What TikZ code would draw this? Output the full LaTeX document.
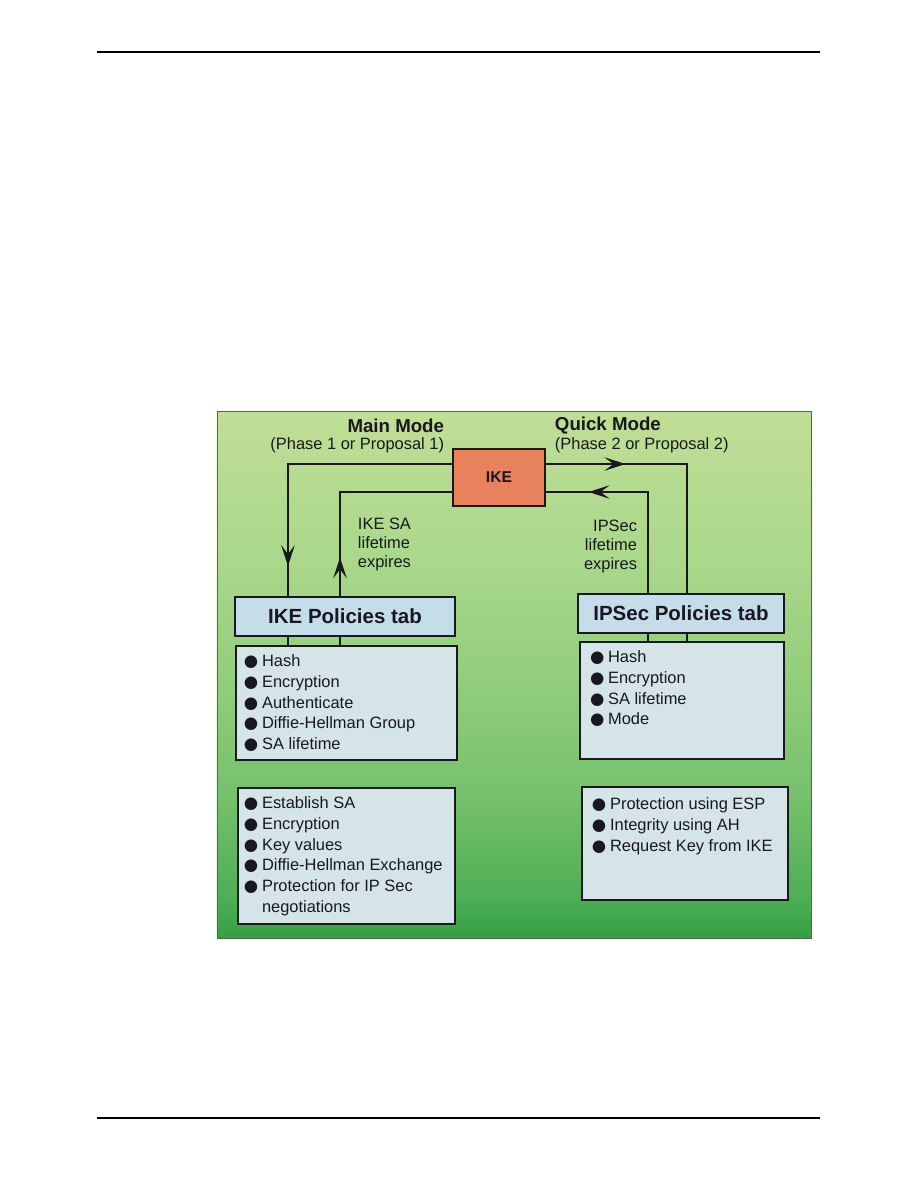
\documentclass[tikz,border=0pt]{standalone}
\usepackage{fontspec}
\setmainfont{Liberation Sans}
\newfontfamily\bulfont{DejaVu Sans}
\usepackage{xcolor}
\usepackage{tikz}
\usetikzlibrary{arrows.meta,positioning,decorations.markings}
\definecolor{ikeorange}{RGB}{232,130,92}
\definecolor{tabblue}{RGB}{197,221,235}
\definecolor{listgray}{RGB}{213,228,231}
\definecolor{paneledge}{RGB}{78,108,68}
\definecolor{inkdark}{RGB}{24,24,30}
\definecolor{greenTop}{RGB}{192,222,150}
\definecolor{greenHigh}{RGB}{170,216,138}
\definecolor{greenMid}{RGB}{143,204,122}
\definecolor{greenLow}{RGB}{116,192,106}
\definecolor{greenDeep}{RGB}{78,175,86}
\definecolor{greenBottom}{RGB}{54,160,68}
\pgfdeclareverticalshading{panelgreen}{100bp}{color(0bp)=(greenBottom); color(25bp)=(greenBottom); color(29bp)=(greenDeep); color(38bp)=(greenLow); color(48bp)=(greenMid); color(61bp)=(greenHigh); color(75bp)=(greenTop); color(100bp)=(greenTop)}
\newcommand{\blt}{{\bulfont ●}\hspace{2.5pt}}

\begin{document}
\begin{tikzpicture}[line width=1.3pt, inkdark,
  every node/.style={font=\fontsize{11}{13.8}\selectfont, text=inkdark},
  tabbox/.style={draw=inkdark, fill=tabblue, minimum height=0.917cm, font=\fontsize{13.7}{16}\selectfont\bfseries},
  listbox/.style={draw=inkdark, fill=listgray},
  listtxt/.style={inner sep=0pt, align=left},
  midarrow/.style={postaction={decorate}, decoration={markings, mark=at position #1 with {\arrow{Stealth[length=14pt,width=9pt,inset=6pt]}}}}]
  \useasboundingbox (0,0) rectangle (21.59,-27.94);
  % page rules
  \draw[line width=0.9pt, black] (2.281,-1.223) -- (19.285,-1.223);
  \draw[line width=0.9pt, black] (2.281,-26.294) -- (19.285,-26.294);
  % green panel
  \node[shade, shading=panelgreen, draw=paneledge, line width=0.6pt, minimum width=13.970cm, minimum height=12.394cm] (panel) at (12.088,-15.863) {};
  \node[draw=inkdark, fill=ikeorange, minimum width=2.164cm, minimum height=1.341cm, font=\fontsize{10.5}{12}\selectfont\bfseries] (ike) at (11.736,-11.230) {IKE};
  \node[tabbox, minimum width=5.174cm] (ikepol) at (8.114,-14.499) {IKE Policies tab};
  \node[tabbox, minimum width=4.845cm] (ipsecpol) at (16.016,-14.429) {IPSec Policies tab};
  \node[listbox, minimum width=5.198cm, minimum height=2.681cm] (ikelist) at (8.149,-16.534) {};
  \node[listbox, minimum width=5.104cm, minimum height=3.199cm] (ikesa) at (8.149,-20.132) {};
  \node[listbox, minimum width=4.798cm, minimum height=2.752cm] (ipseclist) at (16.040,-16.475) {};
  \node[listbox, minimum width=4.845cm, minimum height=2.658cm] (ipsecsa) at (16.110,-19.838) {};
  % mode captions
  \node[anchor=east, inner sep=0pt, font=\fontsize{12.5}{14}\selectfont\bfseries] (mainmode) at (10.466,-10.019) {Main Mode};
  \node[anchor=east, inner sep=0pt] (phase1) at (10.466,-10.466) {(Phase 1 or Proposal 1)};
  \node[anchor=west, inner sep=0pt, font=\fontsize{12.5}{14}\selectfont\bfseries] (quickmode) at (13.029,-10.019) {Quick Mode};
  \node[anchor=west, inner sep=0pt] (phase2) at (13.029,-10.466) {(Phase 2 or Proposal 2)};
  \node[anchor=west, inner sep=0pt, align=left, font=\fontsize{11}{12.7}\selectfont] (ikesalbl) at (8.396,-12.806) {IKE SA\\lifetime\\expires};
  \node[anchor=east, inner sep=0pt, align=right, font=\fontsize{11}{12.7}\selectfont] (ipseclbl) at (15.005,-12.841) {IPSec\\lifetime\\expires};
  % loop lines
  \coordinate (ikeout) at (6.773,-10.913);
  \coordinate (ikein) at (7.996,-11.571);
  \coordinate (ipout) at (16.157,-10.913);
  \coordinate (ipin) at (15.240,-11.571);
  \draw[midarrow=0.899] (ike.west |- ikeout) -| (ikepol.north -| ikeout);
  \draw[midarrow=0.179] (ikepol.north -| ikein) |- (ike.west |- ikein);
  \draw[midarrow=0.294] (ike.east |- ipout) -| (ipsecpol.north -| ipout);
  \draw[midarrow=0.79] (ipsecpol.north -| ipin) |- (ike.east |- ipin);
  \draw (ikepol.south -| ikeout) -- (ikelist.north -| ikeout);
  \draw (ikepol.south -| ikein) -- (ikelist.north -| ikein);
  \draw (ipsecpol.south -| ipout) -- (ipseclist.north -| ipout);
  \draw (ipsecpol.south -| ipin) -- (ipseclist.north -| ipin);
  % list contents
  \node[listtxt, below right=0.212cm and 0.188cm of ikelist.north west] (ikelisttxt) {\blt Hash\\\blt Encryption\\\blt Authenticate\\\blt Diffie-Hellman Group\\\blt SA lifetime};
  \node[listtxt, below right=0.212cm and 0.141cm of ikesa.north west] (ikesatxt) {\blt Establish SA\\\blt Encryption\\\blt Key values\\\blt Diffie-Hellman Exchange\\\blt Protection for IP Sec\\\hphantom{\blt}negotiations};
  \node[listtxt, below right=0.212cm and 0.235cm of ipseclist.north west] (ipseclisttxt) {\blt Hash\\\blt Encryption\\\blt SA lifetime\\\blt Mode};
  \node[listtxt, below right=0.259cm and 0.235cm of ipsecsa.north west] (ipsecsatxt) {\blt Protection using ESP\\\blt Integrity using AH\\\blt Request Key from IKE};
\end{tikzpicture}
\end{document}
